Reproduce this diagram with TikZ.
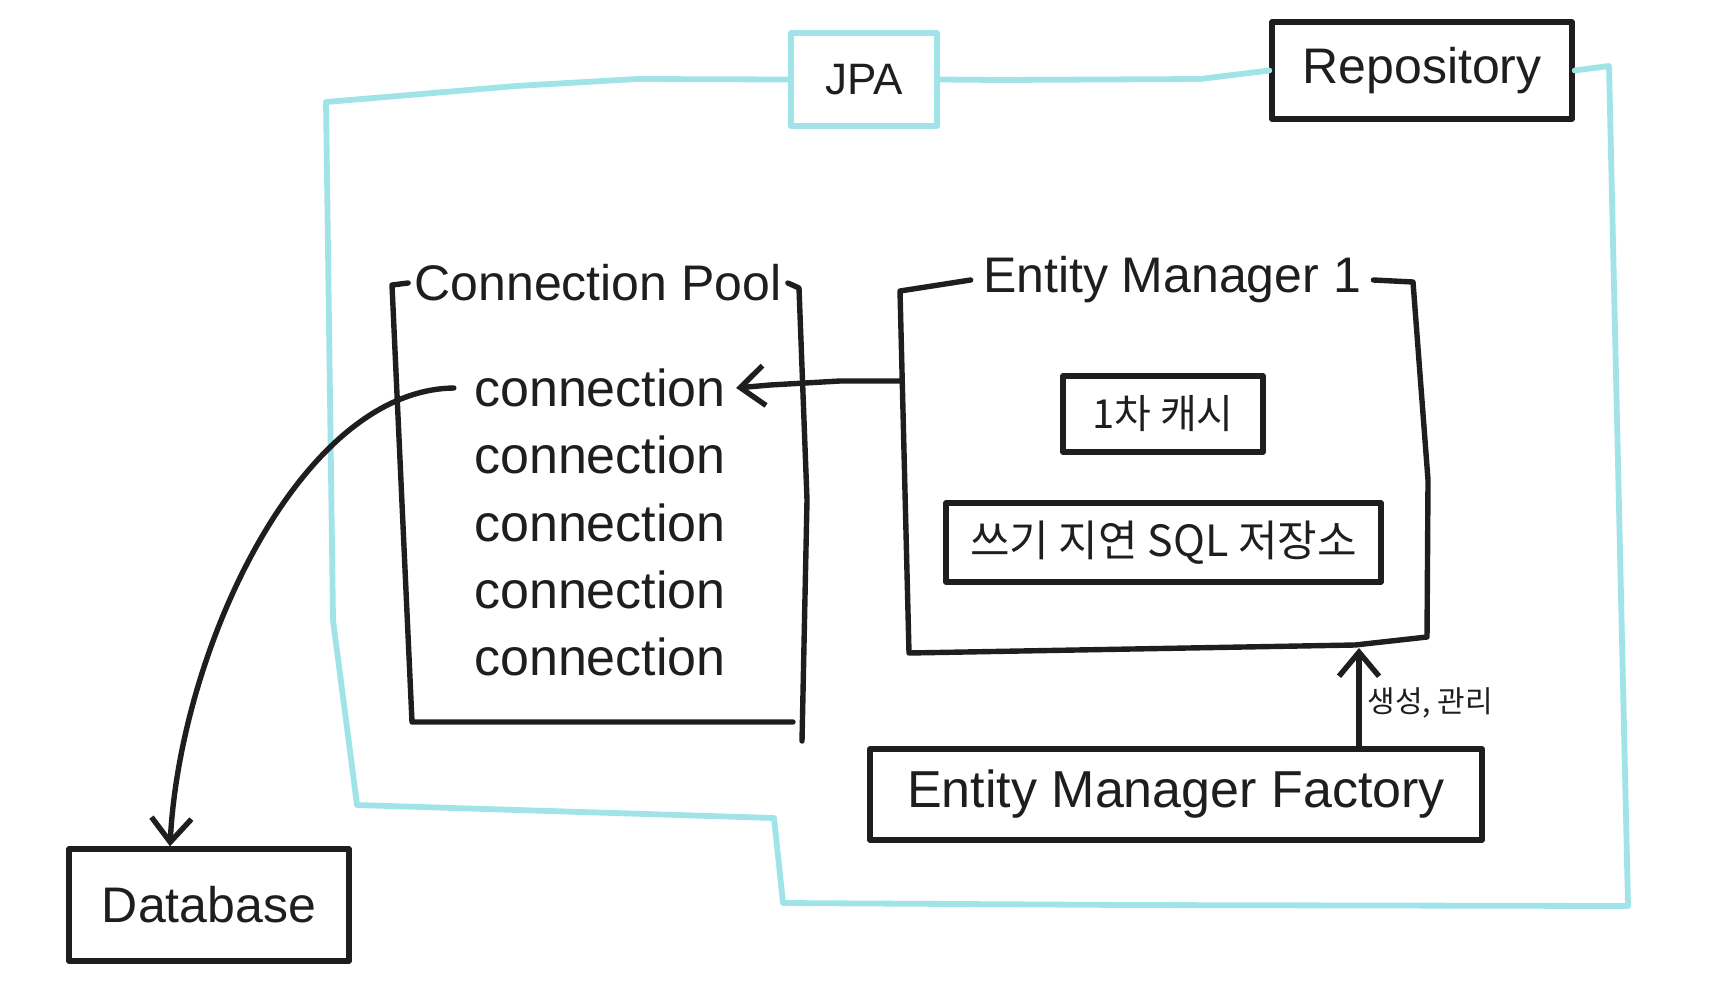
\documentclass[tikz,border=0pt]{standalone}
\usepackage{fontspec}
\setmainfont{Liberation Sans}
\newfontfamily\krfont{Noto Sans CJK KR}
\usetikzlibrary{arrows.meta}
\definecolor{ink}{HTML}{1E1E1E}
\definecolor{jpacyan}{RGB}{160,228,234}

\begin{document}
\begin{tikzpicture}[x=0.5pt,y=-0.5pt,
    inkline/.style={draw=ink,line width=2.7pt,line cap=round,line join=round},
    cyanline/.style={draw=jpacyan,line width=2.9pt,line cap=round,line join=round},
    inkbox/.style={inkline,inner sep=0pt,text=ink,font=\fontsize{25}{30}\selectfont},
    krbox/.style={inkbox,font=\krfont\fontsize{20}{24}\selectfont},
    txt/.style={text=ink,inner sep=1pt,font=\fontsize{25}{30}\selectfont},
    grouptitle/.style={txt,inner sep=5pt},
    >={Straight Barb[length=12pt,width=20pt]}]
      \useasboundingbox (0,0) rectangle (1722,1007);
      % top boxes
      \node[cyanline,inner sep=0pt,text=ink,font=\fontsize{22}{26}\selectfont,
        minimum width=73pt,minimum height=46.5pt] (jpa) at (864,79.5) {JPA};
      \node[inkbox,minimum width=150pt,minimum height=48.5pt] (repo) at (1422,70.5) {Repository};
      \draw[cyanline] (jpa.west) -- (637,79) -- (516,86) -- (362,99) -- (326,102)
        -- (333,620) -- (357,805) -- (774,818) -- (783,903) -- (1130,905)
        -- (1628,906) -- (1609,66) -- (repo.east);
      \draw[cyanline] (jpa.east) -- (1000,80) -- (1200,79) -- (repo.west);
      % connection pool
      \node[grouptitle,inner sep=3pt] (pooltitle) at (598,283) {Connection Pool};
      \draw[inkline] (pooltitle.west) -- (392,285) -- (412,722) -- (793,722);
      \draw[inkline] (pooltitle.east) -- (799,288) -- (807,500) -- (802,741);
      \foreach \i/\y in {1/388,2/455,3/523,4/590,5/657}
        \node[txt,font=\fontsize{26}{30}\selectfont] (conn\i) at (600,\y) {connection};
      % entity manager
      \node[grouptitle,inner sep=6pt] (emtitle) at (1172,280) {Entity Manager 1};
      \draw[inkline] (emtitle.west) -- (900,291) -- (909,653) -- (1355,645)
        -- (1427,637) -- (1428,480) -- (1413,282) -- (emtitle.east);
      \node[krbox,minimum width=100pt,minimum height=38pt] (cache) at (1163,414) {1차 캐시};
      \node[krbox,font=\krfont\fontsize{21.5}{24}\selectfont,minimum width=217.5pt,minimum height=39.5pt] (sqlstore) at (1163.5,542.5) {쓰기 지연 SQL 저장소};
      \node[inkbox,font=\fontsize{26}{30}\selectfont,minimum width=306pt,minimum height=45.5pt] (emf) at (1176,794.5) {Entity Manager Factory};
      \node[inkbox,minimum width=140pt,minimum height=56pt] (db) at (209,905) {Database};
      % arrows
      \coordinate (emleft) at (900,381);
      \coordinate (embottom) at (1359,648);
      \draw[inkline,->] (emleft) -- (840,381) -- (770,385) -- ([xshift=4pt]conn1.east);
      \draw[inkline,->] ([xshift=-9pt]conn1.west) .. controls (300,390) and (180,650) .. ([xshift=-19.5pt]db.north);
      \draw[inkline,->] ([xshift=91.5pt]emf.north) -- (embottom);
      \node[txt,anchor=west,font=\krfont\fontsize{15}{18}\selectfont] (mgmt) at (1365,703) {생성, 관리};
    \end{tikzpicture}
\end{document}
